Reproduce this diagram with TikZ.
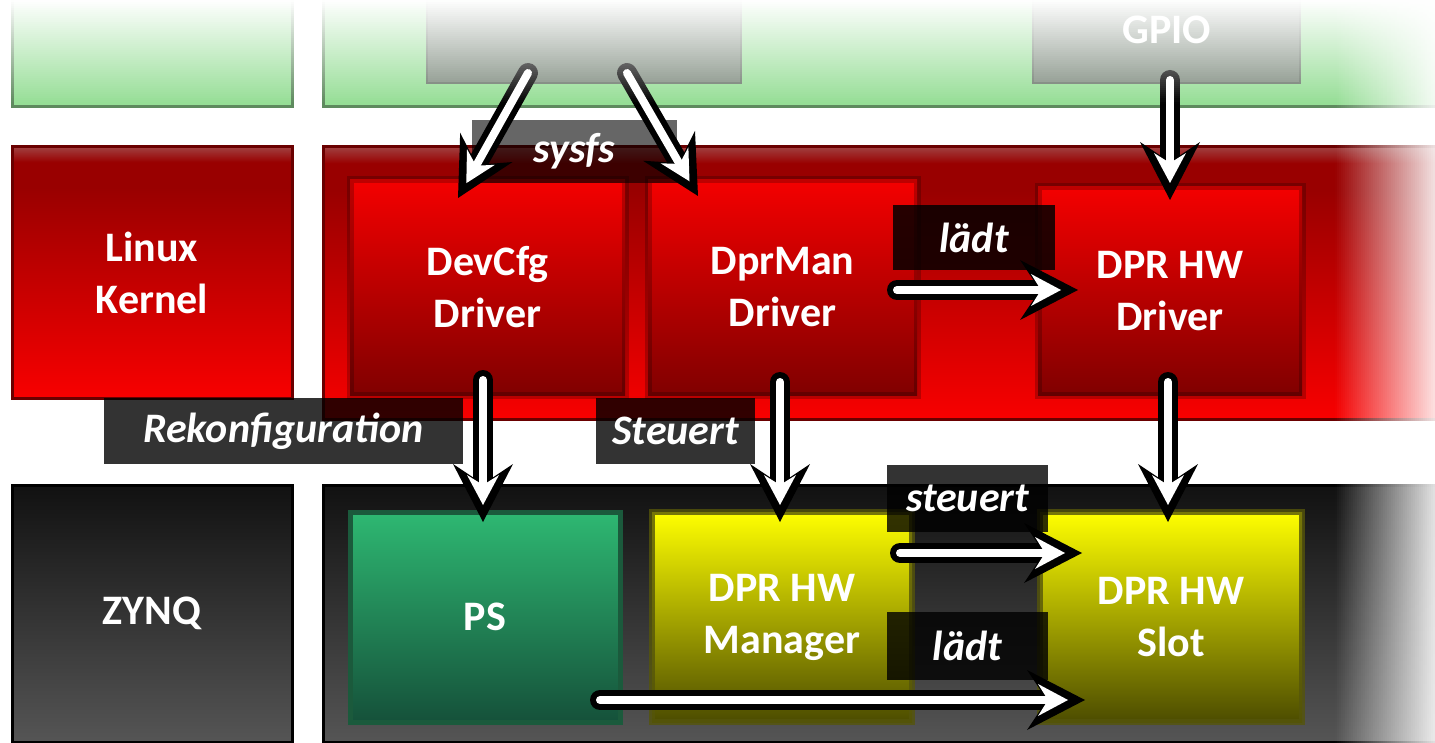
\documentclass[tikz,border=0pt]{standalone}
\usepackage{fontspec}
\setmainfont{Carlito}
\usetikzlibrary{arrows.meta}
\definecolor{grn}{HTML}{96DE96}
\definecolor{grnbd}{HTML}{5E8A5E}
\definecolor{gry}{HTML}{7D8A7D}
\definecolor{rA}{HTML}{F80000}
\definecolor{rB}{HTML}{990000}
\definecolor{rC}{HTML}{A04040}
\definecolor{rbd}{HTML}{6A0000}
\definecolor{riT}{HTML}{F40000}
\definecolor{riB}{HTML}{800000}
\definecolor{kT}{HTML}{111111}
\definecolor{kB}{HTML}{555555}
\definecolor{psT}{HTML}{2EB872}
\definecolor{psB}{HTML}{15513A}
\definecolor{psbd}{HTML}{1B5A3C}
\definecolor{yT}{HTML}{FFFF00}
\definecolor{yB}{HTML}{4C4C00}
\definecolor{ybd}{HTML}{55550A}
\pgfdeclareverticalshading{redrow}{100bp}{color(0bp)=(rA); color(25bp)=(rA); color(67bp)=(rB); color(72bp)=(rB); color(75bp)=(rC); color(100bp)=(rC)}
\tikzset{
  row/.style={rectangle, inner sep=0pt, outer sep=0pt, line width=3pt},
  inbox/.style={rectangle, inner sep=0pt, outer sep=0pt, line width=8pt},
  boxtxt/.style={text=white, font=\fontsize{42}{52}\selectfont\bfseries, align=center},
  lbl/.style={rectangle, inner sep=0pt, outer sep=0pt, fill=black, fill opacity=0.8, text opacity=1, text=white, font=\fontsize{42}{52}\selectfont\bfseries\itshape},
  arrout/.style={line width=20pt, black, line cap=round, -{Stealth[length=58pt,width=60pt,inset=20pt,line width=0pt]}},
  arrin/.style={line width=8pt, white, line cap=round, shorten >=17pt, -{Stealth[length=30pt,width=32pt,inset=10pt,line width=0pt]}},
}
\newcommand\mydblarrow[2]{\draw[arrout] #1 -- #2; \draw[arrin] #1 -- #2;}
\begin{document}
\begin{tikzpicture}[x=1pt,y=-1pt]
\useasboundingbox (0,0) rectangle (1435,743);
\clip (0,0) rectangle (1435,743);
% ---- top row (green)
\node[row, fill=grn, draw=grnbd, minimum width=280pt, minimum height=167pt] (usl) at (152,23.5) {};
\node[row, fill=grn, draw=grnbd, minimum width=1177pt, minimum height=167pt] (usr) at (911.5,23.5) {};
\node[row, fill=gry, draw=gry!85!black, line width=2pt, minimum width=314pt, minimum height=123pt] (dprctl) at (584,21.5) {};
\node[row, fill=gry, draw=gry!85!black, line width=2pt, minimum width=267pt, minimum height=123pt] (gpio) at (1166.5,21.5) {};
\node[boxtxt] (gpiotxt) at (1167,30) {GPIO};
% ---- kernel row (red)
\node[row, shading=redrow, draw=rbd, minimum width=280pt, minimum height=251pt, boxtxt] (lk) at (152,272.5) {Linux\\Kernel};
\node[row, shading=redrow, draw=rbd, minimum width=1177pt, minimum height=272pt] (kr) at (911.5,283) {};
\node[inbox, top color=riT, bottom color=riB, draw=black, draw opacity=0.22, line width=7pt, minimum width=275pt, minimum height=215pt, boxtxt] (devcfg) at (487.5,287.5) {DevCfg\\Driver};
\node[inbox, top color=riT, bottom color=riB, draw=black, draw opacity=0.22, line width=7pt, minimum width=269pt, minimum height=215pt, boxtxt] (dprman) at (782.5,287.5) {DprMan\\Driver};
\node[inbox, top color=riT, bottom color=riB, draw=black, draw opacity=0.22, line width=7pt, minimum width=264pt, minimum height=208pt, boxtxt] (hwdrv) at (1170,291) {DPR HW\\Driver};
% ---- zynq row (black)
\node[row, top color=kT, bottom color=kB, draw=black, minimum width=280pt, minimum height=257pt, boxtxt] (zynq) at (152,613.5) {ZYNQ};
\node[row, top color=kT, bottom color=kB, draw=black, minimum width=1177pt, minimum height=257pt] (zr) at (911.5,613.5) {};
\node[inbox, top color=psT, bottom color=psB, draw=psbd, line width=5pt, minimum width=270pt, minimum height=210pt, boxtxt] (ps) at (485,617) {PS};
\node[inbox, top color=yT, bottom color=yB, draw=ybd, draw opacity=0.8, line width=6pt, minimum width=260pt, minimum height=210pt, boxtxt] (mgr) at (782,617) {DPR HW\\Manager};
\node[inbox, top color=yT, bottom color=yB, draw=ybd, draw opacity=0.8, line width=6pt, minimum width=262pt, minimum height=210pt, boxtxt] (slot) at (1171,617) {DPR HW\\Slot};
% ---- labels
\node[lbl, fill opacity=0.6, minimum width=205pt, minimum height=63pt] (sysfs) at (574.5,151.5) {sysfs};
\node[lbl, fill opacity=0.83, minimum width=162pt, minimum height=65pt] (ladta) at (974,237.5) {lädt};
\node[lbl, minimum width=359pt, minimum height=66pt] (rekon) at (283.5,431) {Rekonfiguration};
\node[lbl, minimum width=159pt, minimum height=66pt] (steua) at (675.5,431) {Steuert};
\node[lbl, minimum width=161pt, minimum height=67pt] (steub) at (967.5,498.5) {steuert};
\node[lbl, minimum width=161pt, minimum height=68pt] (ladtb) at (967.5,646) {lädt};
% ---- arrows
\mydblarrow{([xshift=-56pt,yshift=10pt]dprctl.south)}{([xshift=-29.5pt,yshift=-18pt]devcfg.north)}
\mydblarrow{([xshift=43pt,yshift=10pt]dprctl.south)}{([xshift=-84.5pt,yshift=-16pt]dprman.north)}
\mydblarrow{([xshift=3.5pt,yshift=3pt]gpio.south)}{([yshift=-13pt]hwdrv.north)}
\mydblarrow{([xshift=-4.5pt,yshift=15pt]devcfg.south)}{([xshift=-2pt,yshift=-10pt]ps.north)}
\mydblarrow{([xshift=-2.5pt,yshift=13pt]dprman.south)}{([xshift=-2pt,yshift=-10pt]mgr.north)}
\mydblarrow{([xshift=-2pt,yshift=13pt]hwdrv.south)}{([xshift=-3pt,yshift=-10pt]slot.north)}
\mydblarrow{([xshift=-20pt,yshift=-2.5pt]dprman.east)}{([xshift=40pt,yshift=1pt]hwdrv.west)}
\mydblarrow{([xshift=-12pt,yshift=64pt]mgr.east)}{([xshift=42pt,yshift=64pt]slot.west)}
\mydblarrow{([xshift=-20pt,yshift=-83pt]ps.east)}{([xshift=45pt,yshift=-83pt]slot.west)}
% ---- fades
\foreach \i in {0,...,49}{
  \pgfmathsetmacro\op{0.88*(\i+0.5)/50}
  \fill[white, opacity=\op] ({1335+2*\i},0) rectangle ({1337+2*\i},743);
}
\foreach \i in {0,...,51}{
  \pgfmathsetmacro\op{1-(\i+0.5)/52}
  \fill[white, opacity=\op] (0,{2*\i}) rectangle (1435,{2*\i+2});
}
\end{tikzpicture}
\end{document}
